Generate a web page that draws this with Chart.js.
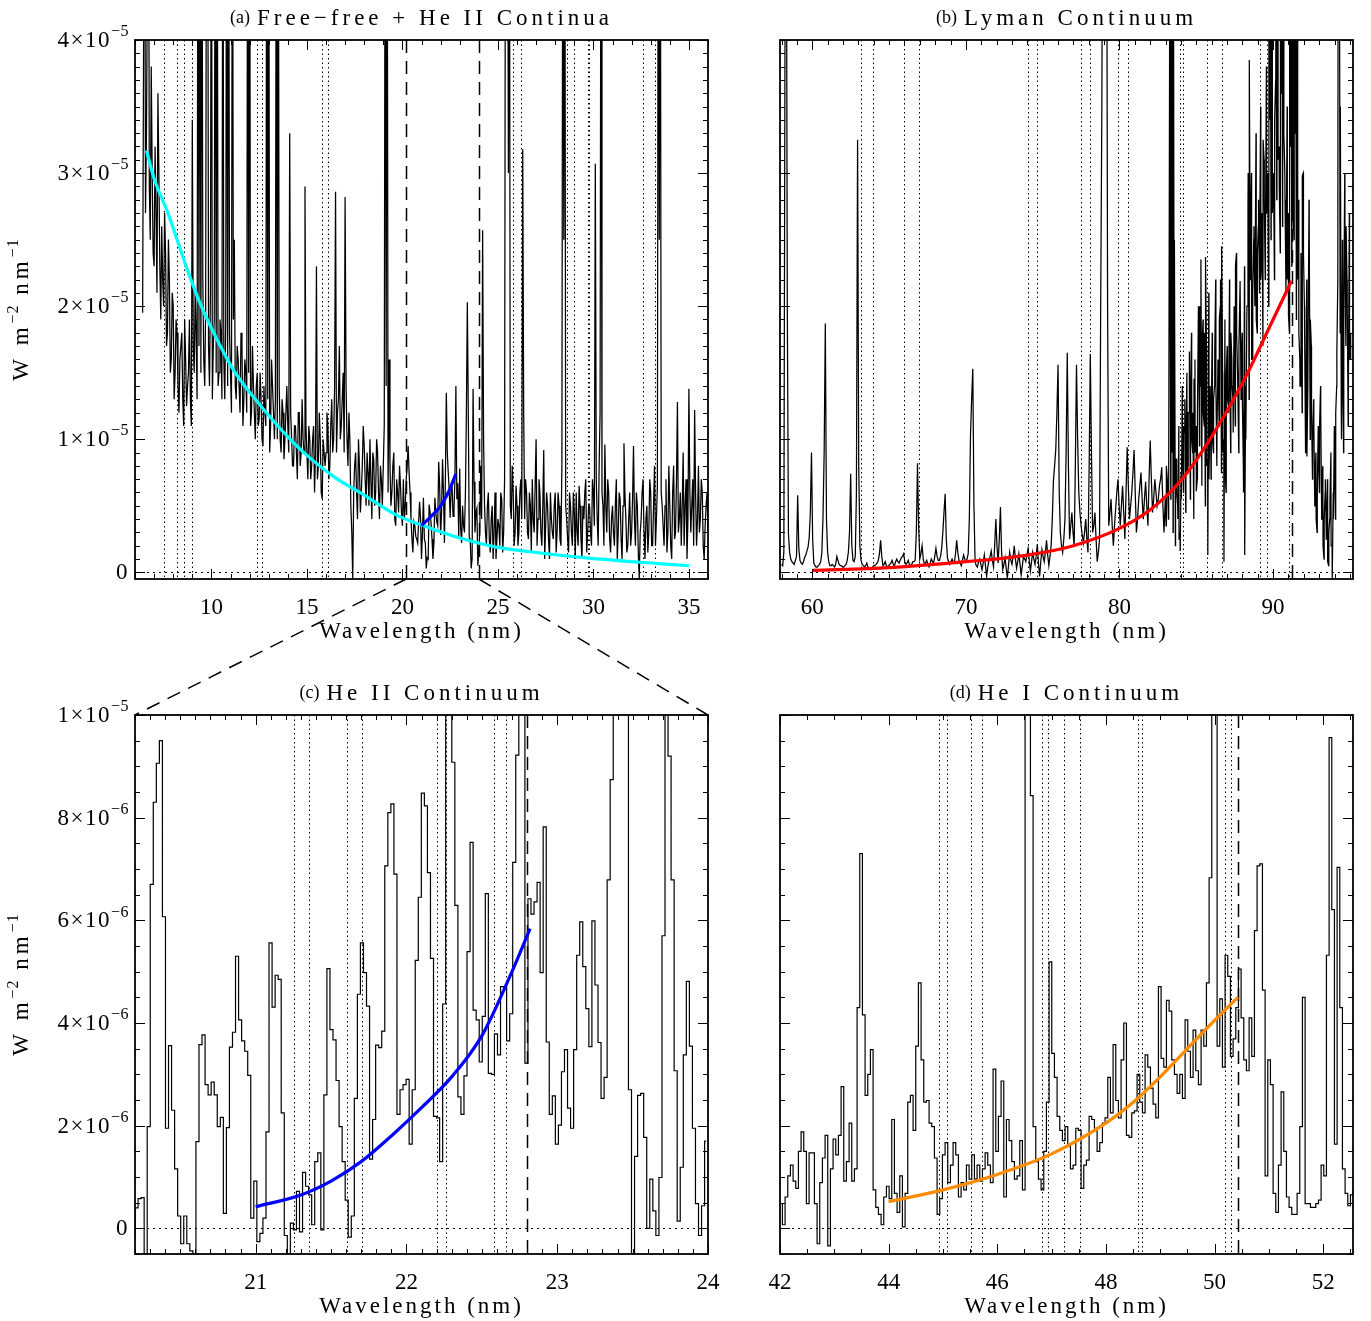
<!DOCTYPE html>
<html><head><meta charset="utf-8">
<script src="https://cdn.jsdelivr.net/npm/chart.js@4.4.1/dist/chart.umd.min.js"></script>
<style>
html,body{margin:0;padding:0;background:#fff;}
#wrap{position:relative;width:1371px;height:1321px;background:#fff;}
canvas{position:absolute;}
</style></head><body>
<div id="wrap">
<canvas id="ca" style="left:0px;top:0px" width="720" height="660"></canvas>
<canvas id="cb" style="left:720px;top:0px" width="651" height="660"></canvas>
<canvas id="cc" style="left:0px;top:660px" width="720" height="661"></canvas>
<canvas id="cd" style="left:720px;top:660px" width="651" height="661"></canvas>
<canvas id="ov" style="left:0px;top:0px;pointer-events:none" width="1371" height="1321"></canvas>
</div>
<script>
// ---------- Panel (a): Free-free + He II continua (flux in 1e-6 W m-2 nm-1) ----------
const A_START = 6.4, A_STEP = 0.1;
const A_FLUX = [
19.5, 60, 33, 60, 25, 30, 23, 27, 36, 23,
26, 20, 24, 18, 22, 16, 20, 15, 18, 12,
17, 13, 19, 12.5, 15, 13, 34, 15, 18, 60,
60, 60, 16, 20, 60, 14, 60, 17, 60, 60,
15, 18, 60, 13, 60, 60, 15, 60, 25, 13,
16, 12, 17, 13, 15, 60, 60, 12, 14, 10,
15, 11.5, 13, 9.5, 12, 60, 60, 11, 14, 10,
60, 60, 10, 13, 8.5, 12, 11, 33, 10, 8,
11, 7, 12, 9, 10, 29, 9, 11, 7, 10,
6, 23, 8, 10, 5.5, 9, 9, 11, 8, 13,
10, 28.6, 12, 17, 11, 15, 28.2, 10, 12, 5,
-0.5, 8, 6, 10, 4.5, 8, 9.5, 5, 7.5, 10,
4, 8.5, 6, 9, 4, 7, 8, 60, 60, 16,
5, 8, 4, 7, 4.5, 6.5, 3.5, 4, 7, 9.5,
6, 2.5, 3.8, 2.7, 2.2, 5.3, 1.0, 5.6, 2.2, 1.1,
5.1, 3.7, 1.0, 5.6, 3.8, 8.3, 2.8, 8.5, 2.2, 13.5,
7.5, 4.1, 6.5, 4.7, 14, 6.7, 7.8, 2.2, 3.5, 6.0,
20.3, 2.6, 0.3, 13.8, 3.0, 4.8, 1.7,
8, 25.7, 5, 2, 6, 1.5, 5, 3, 1, 4,
2, 5.5, 3, 60, 60, 60, 4, 6, 3, 5,
3, 7, 31.8, 4, 6, 2.5, 5, 7, 3, 10,
4, 6, 2, 9.2, 3.5, 5, 1, 4, 2.5, 6,
3, 5, 2, 60, 60, 4, 1.5, 5, 2, 4.5,
6, 2, 5, 1, 4, 7, 3, 5, 2, 6,
30.7, 4, 8, 60, 5, 9.6, 3, 6, 1.5, 5,
2, 7, 3, 5.5, 1, 9.7, 4, 2, 6, 3,
9.5, 2, 5, -0.5, 4, 7, 1, 5, 3, 6,
2, 8, 4, 60, 60, 5, 2, 7, 3, 5,
1, 8, 3, 12.8, 4, 2, 9, 5, 1, 13.8,
3, 7, 12.2, 2, 8, 4, 6, 1, 5, 3
];
// readings half-way between the samples above (6.45, 6.55, ...)
const A_FLUX_MID = [
40, 27, 45, 29, 38, 24, 32, 21, 30, 19,
22, 27, 17, 25, 15, 21, 13, 19, 14, 16,
18, 11, 16, 14, 19, 11, 17, 21, 13, 17,
15, 22, 14, 60, 17, 21, 13, 19, 15, 14,
19, 13, 16, 19, 14, 18, 12, 19, 14, 17,
14, 18, 11, 16, 12, 15, 11, 17, 12, 14,
11, 15, 10, 14, 11, 13, 9, 16, 12, 13,
10, 14, 9, 12, 10, 14, 9, 12, 8, 11,
9, 12, 8, 13, 9, 11, 7, 10, 8, 11,
9, 7, 12, 6, 10, 8, 12, 7, 11, 9,
14, 9, 13, 10, 13, 9, 14, 8, 10, 3,
6, 9, 4, 8, 6, 11, 7, 9, 5, 7,
9, 5, 10, 6, 8, 5, 11, 14, 6, 8,
6, 9, 3.5, 6, 8, 4.5, 7, 5, 8, 7.5,
4, 1.5, 3.5, 2.5, 3.8, 4, 3, 2.5, 0.3, 1,
4.5, 2.5, 2.2, 4.5, 3.5, 6.5, 4.5, 6, 7, 9,
6.2, 6.3, 4.2, 7, 5.5, 2.5, 3.3, 5, 3, 12,
12, 2.5, 1.0, 6.8, 4.5, 0.5, 3,
4, 10, 3, 5, 2.5, 4, 1, 6, 2.5, 3.5,
6, 1.5, 7, 60, 30, 5, 8, 2, 6.5, 2,
6, 4, 12, 7, 3, 6, 1.5, 4, 6.5, 2,
7, 3, 5, 1, 6, 2.5, 6, 3, 5, 1.5,
6, 2.5, 8, 25, 5, 2.5, 6, 3, 6, 1,
3, 6.5, 2.5, 5, 6, 1.5, 5, 3, 7, 3.5,
7, 2, 12, 6, 2, 5, 7, 2.5, 4, 3,
5, 1, 6, 2.5, 5, 6, 1.5, 4, 2, 5.5,
4, 6, 1.5, 3, 6, 3, 4, 1.5, 7, 2,
5, 2, 6.5, 25, 6, 3.5, 5, 1.5, 8, 2,
6, 2.5, 7, 3, 6, 5, 2, 7, 4, 6,
5, 2, 6, 4, 3, 7, 2, 3.5, 6
];
const A_FIT_WL = [6.6, 7.0, 7.75, 8.3, 8.8, 9.5, 10.4, 11.2, 12.3, 13.3, 14.4, 15.4, 16.5, 18.0, 19.7, 21.5, 23.2, 24.9, 26.7, 29.9, 33.4, 35.0];
const A_FIT    = [31.7, 29.6, 26.9, 24.6, 22.5, 19.9, 17.2, 15.1, 13.0, 11.3, 9.6, 8.3, 7.1, 5.8, 4.3, 3.3, 2.5, 1.9, 1.55, 1.05, 0.66, 0.5];
const A_HE2_WL = [21.0, 21.5, 22.0, 22.4, 22.8];
const A_HE2    = [3.5, 4.2, 5.0, 6.0, 7.4];
const A_DOTTED = [7.54, 8.18, 8.58, 8.97, 12.37, 12.67, 15.77, 16.12, 25.77, 26.19, 28.6, 28.99, 29.74, 29.79, 32.62, 33.23];
const A_DASHED = [20.2, 24.0];
const A_XTICKS = [10, 15, 20, 25, 30, 35];
const A_XLABELS = ['10', '15', '20', '25', '30', '35'];
const A_YTICKS = [0, 10, 20, 30, 40];
const A_YLABEL_BASE = ['0', '1×10', '2×10', '3×10', '4×10'];
const A_YLABEL_EXP  = ['', '−5', '−5', '−5', '−5'];

// ---------- Panel (b): Lyman continuum ----------
const B_START = 58.0, B_STEP = 0.15;
const B_FLUX = [
0.6, 1.5, 60, 2.9, 1.0, 0.7, 0.9, 5.8, 0.9, 0.6,
1.1, 1.6, 2.6, 9.0, 0.7, 0.4, 0.5, 0.8, 4.2, 18.7,
1.5, 0.5, 0.6, 0.4, 1.2, 0.6, 0.5, 0.4, 0.6, 1.5,
7.4, 0.9, 1.2, 32.5, 2.0, 0.6, 0.4, 0.7, 0.3, 0.2,
0.5, 0.6, 0.9, 2.4, 0.5, 0.8, 0.4, 0.6, 0.9, 0.5,
1.0, 0.7, 1.1, 1.4, 0.6, 0.9, 0.5, 0.8, 0.9, 8.2,
1.0, 2.0, 0.6, 0.9, 0.4, 1.0, 0.7, 1.8, 0.9, 1.2,
3.0, 5.9, 1.1, 0.6, 1.0, 0.7, 2.4, 0.9, 0.5, 1.3,
0.8, 1.4, 10.3, 15.3, 0.8, 0.4, 1.0, 0.2, 1.3, -0.3,
0.9, 1.6, 0.4, 4.0, 0.7, 4.9, 0.2, 1.1, -0.4, 1.5,
0.6, 2.0, 0.3, 1.4, -0.2, 1.2, 0.8, 1.8, 0.1, 1.5,
0.6, 2.1, -0.3, 1.7, 0.8, 2.4, 0.5, 2.0, 6.9, 9.2,
15.6, 3.0, 1.5, 4.0, 16.5, 2.5, 4.5, 2.0, 15.6, 6.0,
3.5, 2.2, 4.0, 1.5, 16.4, 3.0, 4.5, 0.8, 2.5, 34.7,
60, 60, 3.5, 5.5, 2.0, 4.8, 7.0, 3.5, 6.5, 2.5,
9.4, 4.0, 6.0, 9.2, 3.0, 5.5, 7.5, 4.0, 6.8, 3.5,
9.9, 4.5, 7.0, 5.0, 6.5, 7.9, 3.0, 8.0, 5.5, 60,
60, 8.5, 4.0, 1.6, 9.0, 13.0, 7.5, 16.6, 10.0, 14.5,
6.1, 18.0, 23.5, 12.0, 23.7, 1.3, 14.0, 10.0, 16.6, 11.0,
19.0, 24.5, 0.8, 15.0, 12.0, 18.0, 10.5, 23.0, 14.0, 21.9,
12.7, 1.3, 20.0, 38.5, 16.0, 26.0, 19.0, 28.0, 22.0, 32.5,
25.0, 30.0, 60, 27.0, 34.0, 60, 29.0, 60, 33.0, 24.0,
19.3, 60, 27.0, 60, 22.0, 14.0, 29.8, 18.0, 8.7, 26.0,
12.0, 11.3, 4.0, 9.0, 12.0, 2.0, 7.0, 0.8, 5.5, -0.5,
8.0, 16.6, 60, 10.0, 20.0, 26.0, 14.0, 18.0
];
// readings half-way between the samples above (58.075, 58.225, ...)
const B_FLUX_MID = [
0.5, 40, 20, 1.5, 0.8, 0.6, 1.2, 1.8, 0.7, 0.8,
1.3, 1.9, 4.5, 2.5, 0.5, 0.4, 0.6, 1.5, 9.0, 4.0,
0.8, 0.5, 0.5, 0.6, 0.9, 0.5, 0.4, 0.5, 0.9, 3.0,
2.0, 0.8, 6.0, 8.0, 0.9, 0.5, 0.5, 0.4, 0.3, 0.4,
0.5, 0.7, 1.4, 1.2, 0.6, 0.5, 0.5, 0.7, 0.6, 0.8,
0.8, 0.9, 1.2, 0.8, 0.7, 0.6, 0.6, 0.8, 3.0, 3.5,
1.4, 1.0, 0.7, 0.6, 0.7, 0.8, 1.2, 1.2, 0.9, 1.8,
4.5, 2.5, 0.8, 0.8, 0.8, 1.4, 1.5, 0.7, 0.9, 1.0,
1.0, 4.0, 13.0, 5.0, 0.5, 0.8, 0.6, 0.7, 0.5, 0.4,
1.2, 0.9, 2.0, 2.0, 2.5, 1.5, 0.6, 0.3, 0.5, 0.9,
1.2, 1.0, 0.8, 0.6, 0.5, 1.0, 1.3, 0.9, 0.8, 1.0,
1.2, 0.7, 0.8, 1.2, 1.5, 1.3, 1.2, 4.0, 8.0, 12.0,
6.0, 2.0, 2.5, 9.0, 8.0, 3.5, 3.0, 8.0, 10.0, 4.5,
2.8, 3.0, 2.5, 8.0, 9.0, 3.5, 2.5, 1.5, 20.0, 60,
60, 20.0, 4.5, 3.5, 3.5, 6.0, 5.0, 5.0, 4.5, 6.0,
6.5, 5.0, 7.5, 6.0, 4.0, 6.5, 5.5, 5.5, 5.0, 7.0,
7.0, 5.5, 6.0, 5.5, 7.0, 5.0, 5.5, 7.0, 30.0, 60,
25.0, 6.0, 2.5, 5.5, 11.0, 10.0, 12.0, 13.0, 12.0, 9.0,
12.0, 20.0, 17.0, 18.0, 8.0, 7.0, 12.0, 13.0, 14.0, 15.0,
22.0, 9.0, 8.0, 13.0, 15.0, 14.0, 17.0, 18.0, 17.0, 16.0,
6.0, 10.0, 30.0, 25.0, 21.0, 22.0, 24.0, 25.0, 27.0, 28.0,
27.0, 40.0, 45.0, 30.0, 45.0, 31.0, 40.0, 30.0, 28.0, 22.0,
40.0, 45.0, 42.0, 35.0, 18.0, 22.0, 24.0, 13.0, 17.0, 19.0,
10.0, 7.0, 6.0, 11.0, 7.0, 4.0, 3.5, 3.0, 2.0, 4.0,
12.0, 40.0, 35.0, 15.0, 23.0, 20.0, 16.0
];
// extra readings in the crowded 83-95 nm stretch (83.0375, 83.1125, ...)
const B_DENSE_START = 83.0375, B_DENSE_STEP = 0.075;
const B_DENSE = [
3.5, 7.0, 4.0, 40, 5.5, 9.0, 3.0, 6.5, 2.0, 8.5,
5.0, 11.0, 3.0, 7.5, 14.0, 6.0, 10.5, 4.5, 15.0, 8.0,
12.0, 5.5, 18.0, 9.0, 4.0, 16.0, 11.0, 7.0, 20.0, 9.5,
14.0, 6.5, 19.0, 11.0, 5.0, 17.0, 8.5, 21.0, 12.0, 7.0,
18.0, 9.0, 14.0, 22.0, 8.0, 16.0, 11.0, 20.0, 7.5, 15.0,
10.0, 19.0, 6.0, 17.0, 12.5, 22.0, 9.0, 16.0, 13.0, 20.0,
11.0, 24.0, 15.0, 9.0, 21.0, 13.0, 18.0, 8.0, 23.0, 14.0,
19.0, 27.0, 13.0, 22.0, 30.0, 16.0, 25.0, 20.0, 33.0, 18.0,
26.0, 21.0, 35.0, 24.0, 17.0, 31.0, 22.0, 38.0, 27.0, 20.0,
34.0, 25.0, 40.0, 29.0, 22.0, 37.0, 28.0, 60, 32.0, 24.0,
36.0, 26.0, 60, 30.0, 21.0, 35.0, 27.0, 18.0, 32.0, 23.0,
60, 25.0, 33.0, 19.0, 60, 28.0, 16.0, 24.0, 12.0, 30.0,
20.0, 9.0, 22.0, 14.0, 28.0, 10.0, 17.0, 7.0, 13.0, 5.0,
9.0, 3.0, 11.0, 6.0, 14.0, 4.0, 8.0, 1.0, 6.0, 2.5,
7.0, 0.5, 4.0, 9.0, 2.0, 6.0, 11.0, 4.0, 14.0, 22.0,
60, 18.0, 12.0, 25.0, 9.0, 30.0, 17.0, 22.0, 11.0, 27.0,
16.0
];
const B_FIT_WL = [60, 65, 70, 74, 77, 80, 82, 84, 86, 88, 90, 91.2];
const B_FIT    = [0.15, 0.35, 0.8, 1.3, 2.0, 3.3, 4.7, 6.9, 10.2, 14.2, 19.0, 21.9];
const B_DOTTED = [63.16, 63.95, 65.98, 66.98, 74.03, 74.66, 77.48, 78.09, 79.89, 80.58, 83.95, 84.16, 85.68, 86.66, 89.15, 89.59, 91.05];
const B_DASHED = [91.2];
const B_XTICKS = [60, 70, 80, 90];
const B_XLABELS = ['60', '70', '80', '90'];
const B_YTICKS = [0, 10, 20, 30, 40];

// ---------- Panel (c): He II continuum (binned) ----------
const C_START = 20.19, C_STEP = 0.0202;
const C_FLUX = [
-0.17, 0.4, 0.58, 0.6, -0.5, 1.98, 6.7, 8.3, 9.06, 9.5,
6.07, 1.95, 3.56, 2.3, 1.16, 0.24, -0.3, 0.24, -0.3, -0.44,
-0.5, 1.69, 3.58, 3.77, 2.8, 2.6, 2.85, 2.6, 1.98, 2.16,
0.29, 1.96, 3.53, 3.82, 5.3, 4.06, 3.65, 3.45, 2.98, 0.2,
0.92, -0.26, -0.1, 0.2, 1.88, 5.56, 4.31, 4.93, 4.85, 2.25,
-0.14, -0.5, 0.1, -0.03, 0.72, -0.07, 1.09, 0.82, 0.65, 0.07,
1.3, 1.47, -0.03, 2.6, 5.06, 3.87, 3.67, 2.88, 1.98, 1.3,
0.55, -0.17, 0.24, 2.53, 4.56, 5.56, 4.98, 4.33, 1.35, 2.12,
3.57, 3.52, 3.84, 7.06, 8.1, 8.27, 6.9, 2.22, 2.7, 2.8,
2.9, 1.64, 2.7, 5.22, 6.45, 8.48, 8.23, 6.93, 5.26, 2.18,
2.15, 1.3, 4.37, 12, 12, 9.08, 6.29, 2.56, 2.22, 2.97,
5.39, 7.52, 4.25, 4.06, 3.24, 4.13, 6.52, 3.02, 3.0, 3.79,
3.38, 4.71, 4.7, 3.65, 4.18, 7.13, 9.22, 12, 12, 3.22,
6.42, 6.12, 6.36, 6.74, 4.98, 7.82, 3.63, 2.22, 2.58, 1.64,
2.01, 3.05, 3.48, 2.34, 1.95, 3.48, 5.32, 5.97, 5.1, 4.28,
3.54, 5.99, 4.74, 3.62, 2.53, 2.94, 6.79, 8.74, 12, 12,
12, 12, 12, 2.7, -0.5, 1.4, 2.59, 2.63, 1.77, 0.0,
0.96, 0.34, -0.14, 0.99, 5.7, 12, 9.2, 6.79, 3.07, 0.14,
1.19, 3.38, 4.81, 3.55, 1.95, 0.48, -0.14, 0.44, 1.7
];
const C_FIT_WL = [21.0, 21.3, 21.5, 21.7, 21.9, 22.1, 22.3, 22.5, 22.7, 22.82];
const C_FIT    = [0.42, 0.65, 0.92, 1.3, 1.8, 2.35, 2.95, 3.75, 5.0, 5.84];
const C_DOTTED = [21.256, 21.355, 21.606, 21.705, 22.206, 22.265, 22.584, 22.661];
const C_DASHED = [22.8];
const C_XTICKS = [21, 22, 23, 24];
const C_XLABELS = ['21', '22', '23', '24'];
const C_YTICKS = [0, 2, 4, 6, 8, 10];
const C_YLABEL_BASE = ['0', '2×10', '4×10', '6×10', '8×10', '1×10'];
const C_YLABEL_EXP  = ['', '−6', '−6', '−6', '−6', '−5'];

// ---------- Panel (d): He I continuum (binned) ----------
const D_START = 42.02, D_STEP = 0.0491;
const D_FLUX = [
0.48, 0.07, 0.61, 1.02, 1.23, 0.92, 0.78, 1.5, 1.88, 1.5,
0.48, 1.47, 1.47, 0.48, -0.3, 0.89, 1.37, 1.81, -0.34, 1.16,
1.74, 1.43, 1.81, 2.76, 0.92, 1.3, 2.05, 0.92, 1.16, 4.3,
7.3, 4.16, 2.59, 3.0, 3.48, 0.75, 0.41, 0.27, 0.07, 0.61,
0.82, 0.58, 2.12, 0.68, 0.31, 1.02, 0.03, 0.68, 2.46, 2.59,
1.91, 3.55, 4.78, 3.28, 2.46, 2.49, 2.05, 1.98, 1.37, 0.27,
0.58, 1.43, 1.67, 0.89, 1.23, 1.67, 1.43, 0.61, 0.89, 0.75,
1.23, 0.96, 1.43, 0.96, 1.23, 0.92, 1.16, 1.47, 1.23, 0.89,
3.1, 1.5, 2.18, 2.87, 0.61, 2.12, 1.71, 1.3, 0.96, 1.02,
1.71, 0.75, 12, 12, 8.43, 1.98, 1.3, 0.96, 0.75, 1.5,
2.46, 5.19, 3.41, 2.94, 2.18, 1.91, 1.71, 1.98,
1.6, 1.16, 1.23, 1.95, 1.91, 0.78, 1.23, 1.33, 2.18, 2.12,
1.95, 1.5, 1.67, 2.05, 2.15, 2.94, 2.25, 3.58, 2.49, 2.15,
3.28, 4.0, 1.81, 1.77, 2.25, 2.29, 3.0, 2.46, 2.25, 3.38,
3.14, 2.73, 2.42, 2.15, 4.71, 3.31, 3.14, 4.44, 4.23, 3.28,
3.0, 2.63, 3.0, 2.53, 4.06, 3.45, 2.94, 3.86, 3.07, 2.8,
3.86, 3.55, 4.78, 6.83, 12, 12, 3.55, 4.47, 3.14, 5.32,
4.91, 3.35, 3.69, 4.3, 5.05, 4.1, 3.28, 3.07, 4.1, 3.35,
5.8, 7.06, 7.1, 4.64, 1.02, 3.28, 2.8, 0.68, 0.31, 1.23,
2.66, 1.5, 0.61, 0.41, 0.27, 0.27, 0.68, 1.98, 4.5, 0.48,
0.48, 0.41, 0.41, 0.48, 0.55, 1.23, 1.02, 5.32, 9.56, 6.21,
1.64, 7.03, 4.3, 1.16, 0.68, 0.44, 0.65, 0.75
];
const D_FIT_WL = [44.0, 45.0, 46.0, 47.0, 48.0, 48.5, 49.0, 49.5, 50.0, 50.43];
const D_FIT    = [0.52, 0.75, 1.05, 1.45, 2.05, 2.45, 2.95, 3.5, 4.05, 4.5];
const D_DOTTED = [44.92, 45.07, 45.52, 45.71, 46.82, 46.93, 47.22, 47.53, 48.59, 48.66, 50.2, 50.3];
const D_DASHED = [50.44];
const D_XTICKS = [42, 44, 46, 48, 50, 52];
const D_XLABELS = ['42', '44', '46', '48', '50', '52'];
const D_YTICKS = [0, 2, 4, 6, 8, 10];

// ---------- helpers ----------
function gridSeries(start, step, vals) {
  return vals.map((v, i) => ({ x: +(start + i * step).toFixed(4), y: v }));
}
function mergeSeries(...lists) { return [].concat(...lists).sort((p, q) => p.x - q.x); }
function pairSeries(xs, ys) { return xs.map((x, i) => ({ x: x, y: ys[i] })); }

const SERIF = '"Liberation Serif", "Times New Roman", serif';

function makeDeco(p) {
  return {
    id: 'deco',
    beforeDatasetsDraw(chart) {
      const { ctx, chartArea: a, scales: { x, y } } = chart;
      const seg = (x1, y1, x2, y2) => { ctx.beginPath(); ctx.moveTo(x1, y1); ctx.lineTo(x2, y2); ctx.stroke(); };
      ctx.save();
      ctx.beginPath(); ctx.rect(a.left, a.top, a.width, a.height); ctx.clip();
      ctx.strokeStyle = '#000'; ctx.lineWidth = 1;
      ctx.setLineDash([2, 4]);
      const y0 = Math.round(y.getPixelForValue(0)) + 0.5;
      seg(a.left, y0, a.right, y0);
      ctx.setLineDash([1.5, 3]);
      p.dotted.forEach(w => { const px = Math.round(x.getPixelForValue(w)) + 0.5; seg(px, a.top, px, a.bottom); });
      ctx.setLineDash([13, 8]); ctx.lineWidth = 1.5;
      p.dashed.forEach(w => { const px = Math.round(x.getPixelForValue(w)) + 0.5; seg(px, a.top, px, a.bottom); });
      ctx.restore();
    },
    afterDraw(chart) {
      const { ctx, chartArea: a, scales: { x, y } } = chart;
      const seg = (x1, y1, x2, y2) => { ctx.beginPath(); ctx.moveTo(x1, y1); ctx.lineTo(x2, y2); ctx.stroke(); };
      ctx.save();
      ctx.strokeStyle = '#000'; ctx.lineWidth = 1; ctx.setLineDash([]);
      const MAJ = 10, MIN = 5;
      let k0 = Math.ceil(x.min / p.xMinor - 1e-6), k1 = Math.floor(x.max / p.xMinor + 1e-6);
      for (let k = k0; k <= k1; k++) {
        const px = Math.round(x.getPixelForValue(k * p.xMinor)) + 0.5;
        seg(px, a.bottom, px, a.bottom - MIN); seg(px, a.top, px, a.top + MIN);
      }
      p.xticks.forEach(v => {
        const px = Math.round(x.getPixelForValue(v)) + 0.5;
        seg(px, a.bottom, px, a.bottom - MAJ); seg(px, a.top, px, a.top + MAJ);
      });
      k0 = Math.ceil(y.min / p.yMinor - 1e-6); k1 = Math.floor(y.max / p.yMinor + 1e-6);
      for (let k = k0; k <= k1; k++) {
        const py = Math.round(y.getPixelForValue(k * p.yMinor)) + 0.5;
        seg(a.left, py, a.left + MIN, py); seg(a.right, py, a.right - MIN, py);
      }
      p.yticks.forEach(v => {
        const py = Math.round(y.getPixelForValue(v)) + 0.5;
        seg(a.left, py, a.left + MAJ, py); seg(a.right, py, a.right - MAJ, py);
      });
      ctx.lineWidth = 1.8;
      ctx.strokeRect(a.left, a.top, a.width, a.height);

      ctx.fillStyle = '#000';
      // y tick labels with raised exponents
      if (p.yBase) {
        ctx.textBaseline = 'middle'; ctx.textAlign = 'left';
        p.yticks.forEach((v, i) => {
          const py = y.getPixelForValue(v);
          ctx.font = '16px ' + SERIF; ctx.letterSpacing = '0.5px';
          const we = p.yExp[i] ? ctx.measureText(p.yExp[i]).width : 0;
          ctx.font = '23px ' + SERIF; ctx.letterSpacing = '1.5px';
          const wb = ctx.measureText(p.yBase[i]).width;
          const xr = a.left - 6;
          ctx.fillText(p.yBase[i], xr - we - wb, py + 1);
          if (we) {
            ctx.font = '16px ' + SERIF; ctx.letterSpacing = '0.5px';
            ctx.fillText(p.yExp[i], xr - we, py - 8);
          }
        });
      }

      // panel title
      ctx.textBaseline = 'middle'; ctx.textAlign = 'left';
      ctx.font = '18px ' + SERIF; ctx.letterSpacing = '0px';
      const wTag = ctx.measureText(p.tag).width;
      ctx.font = '23px ' + SERIF; ctx.letterSpacing = '4px';
      const wMain = ctx.measureText(p.title).width;
      const gap = 7;
      const cx = (a.left + a.right) / 2;
      const sx = cx - (wTag + gap + wMain) / 2;
      const ty = a.top - 21;
      ctx.font = '18px ' + SERIF; ctx.letterSpacing = '0px';
      ctx.fillText(p.tag, sx, ty - 1);
      ctx.font = '23px ' + SERIF; ctx.letterSpacing = '4px';
      ctx.fillText(p.title, sx + wTag + gap, ty);

      // x axis title
      ctx.font = '23px ' + SERIF; ctx.letterSpacing = '3px';
      ctx.textAlign = 'center';
      ctx.fillText(p.xTitle, cx, a.bottom + 53);

      // y axis title with superscripts
      if (p.yTitle) {
        ctx.save();
        ctx.translate(22, (a.top + a.bottom) / 2);
        ctx.rotate(-Math.PI / 2);
        ctx.textAlign = 'left';
        const parts = p.yTitle.map(([t, sup]) => {
          ctx.font = (sup ? '16px ' : '23px ') + SERIF; ctx.letterSpacing = sup ? '1px' : '4px';
          return { t, sup, w: ctx.measureText(t).width };
        });
        const total = parts.reduce((s, q) => s + q.w, 0);
        let px = -total / 2;
        parts.forEach(q => {
          ctx.font = (q.sup ? '16px ' : '23px ') + SERIF; ctx.letterSpacing = q.sup ? '1px' : '4px';
          ctx.fillText(q.t, px, q.sup ? -8 : 0);
          px += q.w;
        });
        ctx.restore();
      }
      ctx.restore();
    }
  };
}

function makeChart(p) {
  const datasets = p.fits.map(f => ({
    data: pairSeries(f.wl, f.v), borderColor: f.color, borderWidth: 3.2,
    cubicInterpolationMode: 'monotone', pointRadius: 0, fill: false, clip: 0
  }));
  datasets.push({ data: p.spec, borderColor: '#000', borderWidth: p.specWidth, stepped: p.stepped,
    pointRadius: 0, fill: false, clip: 0 });
  return new Chart(document.getElementById(p.id), {
    type: 'line',
    data: { datasets },
    options: {
      responsive: false, animation: false, devicePixelRatio: 1, events: [],
      layout: { padding: { top: p.padTop, right: p.padRight, left: 0, bottom: 0 } },
      plugins: { legend: { display: false }, tooltip: { enabled: false }, title: { display: false } },
      scales: {
        x: {
          type: 'linear', min: p.xmin, max: p.xmax,
          grid: { display: false }, border: { display: false },
          afterBuildTicks: s => { s.ticks = p.xticks.map(v => ({ value: v })); },
          afterFit: s => { s.height = p.xh; s.paddingLeft = 0; s.paddingRight = 0; },
          ticks: { padding: 7, color: '#000', autoSkip: false, maxRotation: 0,
            font: { family: SERIF, size: 23 },
            callback: (v, i) => p.xlabels[i] }
        },
        y: {
          type: 'linear', min: p.ymin, max: p.ymax,
          grid: { display: false }, border: { display: false },
          afterBuildTicks: s => { s.ticks = p.yticks.map(v => ({ value: v })); },
          afterFit: s => { s.width = p.yw; s.paddingTop = 0; s.paddingBottom = 0; },
          ticks: { display: false }
        }
      }
    },
    plugins: [makeDeco(p)]
  });
}

const YTITLE = [['W m', false], ['−2', true], [' nm', false], ['−1', true]];
const XTITLE = 'Wavelength (nm)';

const chartA = makeChart({
  id: 'ca', spec: mergeSeries(gridSeries(A_START, A_STEP, A_FLUX), gridSeries(A_START + A_STEP / 2, A_STEP, A_FLUX_MID)),
  stepped: false, specWidth: 1.25,
  fits: [{ wl: A_HE2_WL, v: A_HE2, color: '#0000FF' }, { wl: A_FIT_WL, v: A_FIT, color: '#00FFFF' }],
  xmin: 6, xmax: 36, ymin: -0.5, ymax: 40, xticks: A_XTICKS, xlabels: A_XLABELS, yticks: A_YTICKS,
  yBase: A_YLABEL_BASE, yExp: A_YLABEL_EXP,
  xMinor: 1, yMinor: 1, dotted: A_DOTTED, dashed: A_DASHED,
  padTop: 40, padRight: 12, xh: 81, yw: 135,
  tag: '(a)', title: 'Free−free + He II Continua', xTitle: XTITLE, yTitle: YTITLE
});
const chartB = makeChart({
  id: 'cb', spec: mergeSeries(gridSeries(B_START, B_STEP, B_FLUX), gridSeries(B_START + B_STEP / 2, B_STEP, B_FLUX_MID),
    gridSeries(B_DENSE_START, B_DENSE_STEP, B_DENSE)),
  stepped: false, specWidth: 1.25,
  fits: [{ wl: B_FIT_WL, v: B_FIT, color: '#FF0000' }],
  xmin: 57.9, xmax: 95.2, ymin: -0.5, ymax: 40, xticks: B_XTICKS, xlabels: B_XLABELS, yticks: B_YTICKS,
  yBase: null, yExp: null,
  xMinor: 1, yMinor: 1, dotted: B_DOTTED, dashed: B_DASHED,
  padTop: 40, padRight: 18, xh: 81, yw: 60,
  tag: '(b)', title: 'Lyman Continuum', xTitle: XTITLE, yTitle: null
});
const chartC = makeChart({
  id: 'cc', spec: gridSeries(C_START, C_STEP, C_FLUX), stepped: 'middle', specWidth: 1.2,
  fits: [{ wl: C_FIT_WL, v: C_FIT, color: '#0000FF' }],
  xmin: 20.2, xmax: 24.0, ymin: -0.5, ymax: 10, xticks: C_XTICKS, xlabels: C_XLABELS, yticks: C_YTICKS,
  yBase: C_YLABEL_BASE, yExp: C_YLABEL_EXP,
  xMinor: 0.1, yMinor: 0.5, dotted: C_DOTTED, dashed: C_DASHED,
  padTop: 55, padRight: 12, xh: 67, yw: 135,
  tag: '(c)', title: 'He II Continuum', xTitle: XTITLE, yTitle: YTITLE
});
const chartD = makeChart({
  id: 'cd', spec: gridSeries(D_START, D_STEP, D_FLUX), stepped: 'middle', specWidth: 1.2,
  fits: [{ wl: D_FIT_WL, v: D_FIT, color: '#FF8C00' }],
  xmin: 42, xmax: 52.55, ymin: -0.5, ymax: 10, xticks: D_XTICKS, xlabels: D_XLABELS, yticks: D_YTICKS,
  yBase: null, yExp: null,
  xMinor: 0.5, yMinor: 0.5, dotted: D_DOTTED, dashed: D_DASHED,
  padTop: 55, padRight: 18, xh: 67, yw: 60,
  tag: '(d)', title: 'He I Continuum', xTitle: XTITLE, yTitle: null
});

// dashed connectors from the zoom window in (a) to the frame of (c)
function drawConnectors() {
  const ov = document.getElementById('ov');
  const ctx = ov.getContext('2d');
  ctx.clearRect(0, 0, ov.width, ov.height);
  const ca = document.getElementById('ca'), cc = document.getElementById('cc');
  const ax = chartA.scales.x, aArea = chartA.chartArea, cArea = chartC.chartArea;
  const yFrom = ca.offsetTop + aArea.bottom;
  const yTo = cc.offsetTop + cArea.top;
  const targets = [cc.offsetLeft + cArea.left, cc.offsetLeft + cArea.right];
  ctx.strokeStyle = '#000'; ctx.lineWidth = 1.5; ctx.setLineDash([14, 9]);
  A_DASHED.forEach((w, i) => {
    const xFrom = ca.offsetLeft + ax.getPixelForValue(w);
    ctx.beginPath(); ctx.moveTo(xFrom, yFrom); ctx.lineTo(targets[i], yTo); ctx.stroke();
  });
}
drawConnectors();
</script>
</body></html>
